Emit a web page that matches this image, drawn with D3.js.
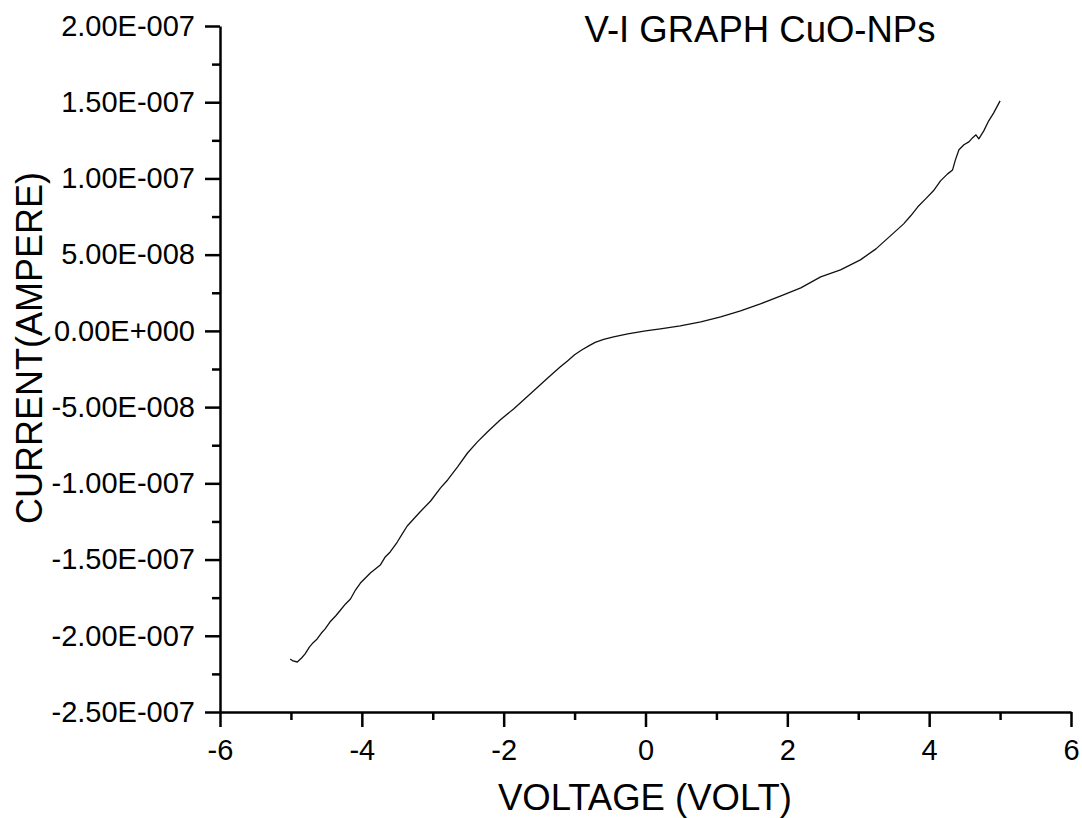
<!DOCTYPE html>
<html>
<head>
<meta charset="utf-8">
<script src="https://cdn.jsdelivr.net/npm/d3@7"></script>
<style>
  body { margin: 0; background: #fff; }
  text { font-family: Arial, 'Liberation Sans', sans-serif; fill: #000; }
</style>
</head>
<body>
<script>
// V-I curve (volts, amperes)
const voltage = [-5.01, -4.97, -4.91, -4.85, -4.80, -4.74, -4.69, -4.63, -4.57, -4.52,
  -4.45, -4.37, -4.30, -4.23, -4.16, -4.09, -4.02, -3.95, -3.88, -3.81,
  -3.74, -3.67, -3.60, -3.50, -3.43, -3.36, -3.27, -3.18, -3.03, -2.89,
  -2.79, -2.65, -2.51, -2.37, -2.23, -2.05, -1.86, -1.72, -1.58, -1.41,
  -1.30, -1.20, -1.10, -1.00, -0.90, -0.80, -0.71, -0.59, -0.45, -0.25,
  0.00, 0.21, 0.49, 0.78,
  1.06, 1.34, 1.62, 1.91, 2.19, 2.47, 2.75, 3.03, 3.25, 3.39,
  3.50, 3.64, 3.74, 3.84, 3.95, 4.06, 4.16, 4.26, 4.33, 4.37,
  4.42, 4.49, 4.56, 4.61, 4.66, 4.70, 4.77, 4.84, 4.91, 5.00]
const current = [-21.52, -21.65, -21.72, -21.46, -21.19, -20.74, -20.47, -20.21, -19.82, -19.56,
  -19.10, -18.70, -18.31, -17.91, -17.59, -17.00, -16.54, -16.21, -15.88, -15.62,
  -15.36, -14.83, -14.50, -13.85, -13.32, -12.80, -12.34, -11.88, -11.16, -10.30,
  -9.78, -8.92, -8.01, -7.28, -6.63, -5.84, -5.12, -4.53, -3.94, -3.22,
  -2.76, -2.36, -1.97, -1.57, -1.25, -0.98, -0.75, -0.56, -0.39, -0.20,
  0.00, 0.13, 0.33, 0.59,
  0.92, 1.31, 1.77, 2.30, 2.82, 3.54, 4.00, 4.66, 5.38, 5.97,
  6.43, 7.02, 7.55, 8.14, 8.66, 9.19, 9.84, 10.30, 10.56, 11.22,
  11.88, 12.21, 12.40, 12.66, 12.86, 12.60, 13.12, 13.78, 14.30, 15.09].map(v => v * 1e-8)

const xTicks = [-6, -4, -2, 0, 2, 4, 6]
const xTickLabels = ['-6', '-4', '-2', '0', '2', '4', '6']
const xMinor = [-5, -3, -1, 1, 3, 5]
const yTicks = [-2.5e-7, -2e-7, -1.5e-7, -1e-7, -5e-8, 0, 5e-8, 1e-7, 1.5e-7, 2e-7]
const yTickLabels = ['-2.50E-007', '-2.00E-007', '-1.50E-007', '-1.00E-007', '-5.00E-008',
  '0.00E+000', '5.00E-008', '1.00E-007', '1.50E-007', '2.00E-007']
const yMinor = [-2.25e-7, -1.75e-7, -1.25e-7, -7.5e-8, -2.5e-8, 2.5e-8, 7.5e-8, 1.25e-7, 1.75e-7]

let width = 1082, height = 818
const font = "Arial, 'Liberation Sans', sans-serif"

let svg = d3.select('body').append('svg')
  .attr('width', width)
  .attr('height', height)

let x = d3.scaleLinear().domain([-6, 6]).range([220, 1071])
let y = d3.scaleLinear().domain([-2.5e-7, 2e-7]).range([712, 26])

let data = voltage.map((v, i) => ({v: v, c: current[i]}))

// curve
svg.append('path')
  .datum(data)
  .attr('d', d3.line().x(d => x(d.v)).y(d => y(d.c)))
  .style('fill', 'none')
  .style('stroke', '#111')
  .style('stroke-width', 1.3)
  .style('stroke-linejoin', 'round')

// minor ticks
svg.append('g')
  .attr('transform', `translate(0, ${y(-2.5e-7)})`)
  .call(d3.axisBottom(x).tickValues(xMinor).tickSize(8).tickSizeOuter(0).tickFormat(''))
  .call(g => g.select('.domain').remove())
  .selectAll('line').style('stroke-width', 2.5)

svg.append('g')
  .attr('transform', `translate(${x(-6)}, 0)`)
  .call(d3.axisLeft(y).tickValues(yMinor).tickSize(8).tickSizeOuter(0).tickFormat(''))
  .call(g => g.select('.domain').remove())
  .selectAll('line').style('stroke-width', 2.5)

// major axes
let xAxis = svg.append('g')
  .attr('transform', `translate(0, ${y(-2.5e-7)})`)
  .call(d3.axisBottom(x).tickValues(xTicks).tickSize(15).tickSizeOuter(0).tickPadding(12)
    .tickFormat((d, i) => xTickLabels[i]))
xAxis.attr('font-size', 29).attr('font-family', font)
xAxis.select('.domain').style('stroke-width', 2.5)
xAxis.selectAll('line').style('stroke-width', 2.5)

let yAxis = svg.append('g')
  .attr('transform', `translate(${x(-6)}, 0)`)
  .call(d3.axisLeft(y).tickValues(yTicks).tickSize(15).tickSizeOuter(0).tickPadding(10)
    .tickFormat((d, i) => yTickLabels[i]))
yAxis.attr('font-size', 29).attr('font-family', font)
yAxis.select('.domain').style('stroke-width', 2.5)
yAxis.selectAll('line').style('stroke-width', 2.5)

// titles
svg.append('text')
  .attr('x', 760)
  .attr('y', 42)
  .attr('text-anchor', 'middle')
  .style('font-size', '36.5px')
  .text('V-I GRAPH CuO-NPs')

svg.append('text')
  .attr('x', 645)
  .attr('y', 810)
  .attr('text-anchor', 'middle')
  .style('font-size', '36.5px')
  .text('VOLTAGE (VOLT)')

svg.append('text')
  .attr('transform', 'translate(42, 348) rotate(-90)')
  .attr('text-anchor', 'middle')
  .style('font-size', '36px')
  .text('CURRENT(AMPERE)')
</script>
</body>
</html>
